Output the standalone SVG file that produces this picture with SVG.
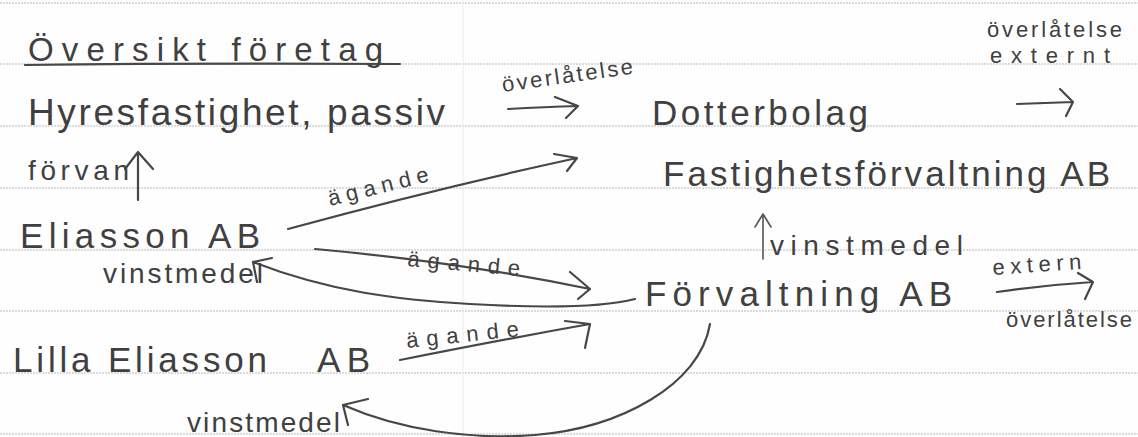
<svg xmlns="http://www.w3.org/2000/svg" width="1138" height="437" viewBox="0 0 1138 437">
<defs>
<style>
.rule{stroke:#b8b8b8;stroke-width:1;stroke-dasharray:2 1}
.ink{fill:none;stroke:#474747;stroke-width:2.2;stroke-linecap:round;stroke-linejoin:round}
.thin{fill:none;stroke:#555;stroke-width:1.6;stroke-linecap:round;stroke-linejoin:round}
text{font-family:"Liberation Sans","DejaVu Sans",sans-serif;fill:#404040}
.big{font-size:35px}
.mid{font-size:28px}
.sm{font-size:22px}
</style>
</defs>
<rect x="0" y="0" width="1138" height="437" fill="#fefefe"/>
<g id="paper">
<line class="rule" x1="0" y1="3" x2="1138" y2="3"/>
<line class="rule" x1="0" y1="64" x2="1138" y2="64"/>
<line class="rule" x1="0" y1="126" x2="1138" y2="126"/>
<line class="rule" x1="0" y1="188" x2="1138" y2="188"/>
<line class="rule" x1="0" y1="250" x2="1138" y2="250"/>
<line class="rule" x1="0" y1="311" x2="1138" y2="311"/>
<line class="rule" x1="0" y1="373" x2="1138" y2="373"/>
<line class="rule" x1="0" y1="434" x2="1138" y2="434"/>
<line x1="463" y1="0" x2="463" y2="437" stroke="#ececec" stroke-width="1"/>
</g>
<g id="title">
<text x="28" y="61" font-size="33" textLength="355" lengthAdjust="spacing">Översikt företag</text>
<path class="ink" d="M25 65 Q200 63 400 64"/>
</g>
<g id="hyresfastighet"><text x="28" y="125" font-size="37" textLength="417" lengthAdjust="spacing">Hyresfastighet, passiv</text></g>
<g id="dotterbolag"><text class="big" x="652" y="125" textLength="216" lengthAdjust="spacing">Dotterbolag</text></g>
<g id="fastighetsforvaltning"><text class="big" x="663" y="186" textLength="447" lengthAdjust="spacing">Fastighetsförvaltning AB</text></g>
<g id="eliasson"><text class="big" x="20" y="248" textLength="240" lengthAdjust="spacing">Eliasson AB</text></g>
<g id="forvaltning"><text class="big" x="645" y="306" textLength="307" lengthAdjust="spacing">Förvaltning AB</text></g>
<g id="lilla-eliasson"><text class="big" y="372"><tspan x="13" textLength="254" lengthAdjust="spacing">Lilla Eliasson</tspan><tspan x="317" textLength="53" lengthAdjust="spacing">AB</tspan></text></g>
<g id="connectors">
<g id="c-forvan">
<path class="ink" d="M138 200 L138 152 M125 169 L138 152 L153 169"/>
<text class="mid" x="28" y="180" font-size="26" textLength="101" lengthAdjust="spacing">förvan</text>
</g>
<g id="c-overlatelse">
<path class="ink" d="M508 109 Q545 107 578 106 M555 97 L578 106 L566 118"/>
<text class="sm" x="503" y="92" font-size="20" textLength="132" lengthAdjust="spacing" transform="rotate(-8 503 92)">överlåtelse</text>
</g>
<g id="c-externt">
<path class="ink" d="M1017 104 L1073 102 M1060 89 L1073 102 L1066 116"/>
<text class="sm" x="987" y="37" textLength="135" lengthAdjust="spacing">överlåtelse</text>
<text class="sm" x="990" y="63" font-size="24" textLength="120" lengthAdjust="spacing">externt</text>
</g>
<g id="c-agande1">
<path class="ink" d="M288 229 Q430 190 577 158 M554 154 L577 158 L567 171"/>
<text class="sm" x="330" y="206" textLength="103" lengthAdjust="spacing" transform="rotate(-14 330 206)">ägande</text>
</g>
<g id="c-agande2">
<path class="ink" d="M315 249 Q460 262 590 289 M570 272 L590 289 L578 299"/>
<text class="sm" x="407" y="266" font-size="24" textLength="113" lengthAdjust="spacing" transform="rotate(5 407 266)">ägande</text>
</g>
<g id="c-vinstmedel1">
<path class="ink" d="M635 299 C600 308 540 308 470 304 C400 300 330 292 253 262 M272 258 L253 262 L257 282"/>
<text class="mid" x="103" y="283" textLength="160" lengthAdjust="spacing">vinstmedel</text>
</g>
<g id="c-vinstmedel2">
<path class="thin" d="M763 259 L763 214 M755 227 L763 214 L771 227"/>
<text class="mid" x="770" y="255" textLength="193" lengthAdjust="spacing">vinstmedel</text>
</g>
<g id="c-extern">
<path class="ink" d="M997 292 Q1045 285 1093 282 M1078 273 L1093 282 L1085 299"/>
<text class="sm" x="993" y="275" textLength="89" lengthAdjust="spacing" transform="rotate(-4 993 275)">extern</text>
<text class="sm" x="1006" y="327" font-size="21" textLength="126" lengthAdjust="spacing">överlåtelse</text>
</g>
<g id="c-agande3">
<path class="ink" d="M400 360 Q500 340 590 324 M565 321 L590 324 L585 348"/>
<text class="sm" x="407" y="348" font-size="24" textLength="113" lengthAdjust="spacing" transform="rotate(-6 407 348)">ägande</text>
</g>
<g id="c-vinstmedel3">
<path class="ink" d="M710 324 C700 385 620 428 535 435 C470 440 400 430 343 405 M368 399 L343 405 L348 425"/>
<text class="mid" x="187" y="432" font-size="26" textLength="153" lengthAdjust="spacing">vinstmedel</text>
</g>
</g>
</svg>
